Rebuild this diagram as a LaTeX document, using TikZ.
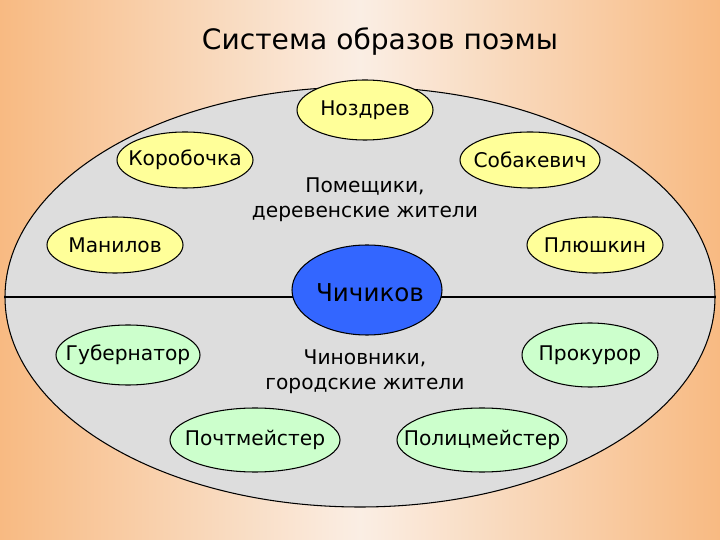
\documentclass[tikz,border=0pt]{standalone}
\usepackage{fontspec}
\setmainfont{DejaVu Sans}
\usetikzlibrary{shapes.geometric}
\definecolor{bgedge}{RGB}{248,186,130}
\definecolor{bgmid}{RGB}{250,238,228}
\definecolor{yel}{RGB}{255,255,153}
\definecolor{grn}{RGB}{204,255,204}
\definecolor{blu}{RGB}{51,102,255}
\definecolor{gry}{RGB}{221,221,221}
\tikzset{
 px/.style={x=0.02cm,y=-0.02cm},
 el/.style={ellipse,draw=black,line width=0.6pt,inner sep=0pt},
 txt/.style={font=\fontsize{11.5}{14}\selectfont},
 lab/.style={align=center,font=\fontsize{11.5}{14}\selectfont}
}
\begin{document}
\begin{tikzpicture}[px]
\shade[left color=bgedge,right color=bgedge,middle color=bgmid] (0,0) rectangle (720,540);
\useasboundingbox (0,0) rectangle (720,540);
\node (title) at (380,42) {\fontsize{16}{20}\selectfont Система образов поэмы};
\node[ellipse,draw=black,line width=0.6pt,fill=gry,minimum width=710*0.02cm,minimum height=420*0.02cm] (big) at (360,297) {};
\draw[line width=0.6pt] (big.west) -- (big.east);
\node[el,fill=yel,minimum width=136*0.02cm,minimum height=60*0.02cm] (noz) at (365,110) {};
\node[txt] at (noz) {Ноздрев};
\node[el,fill=yel,minimum width=136*0.02cm,minimum height=56*0.02cm] (kor) at (185,160) {};
\node[txt] at (kor) {Коробочка};
\node[el,fill=yel,minimum width=140*0.02cm,minimum height=56*0.02cm] (sob) at (530,160) {};
\node[txt] at (sob) {Собакевич};
\node[el,fill=yel,minimum width=136*0.02cm,minimum height=56*0.02cm] (man) at (115,245) {};
\node[txt] at (man) {Манилов};
\node[el,fill=yel,minimum width=136*0.02cm,minimum height=56*0.02cm] (ply) at (595,245) {};
\node[txt] at (ply) {Плюшкин};
\node[lab] (pom) at (365,200) {Помещики,\\деревенские жители};
\node[el,fill=blu,minimum width=150*0.02cm,minimum height=90*0.02cm] (chi) at (367,290) {};
\node[font=\fontsize{14}{16}\selectfont] at (370,293) {Чичиков};
\node[el,fill=grn,minimum width=144*0.02cm,minimum height=60*0.02cm] (gub) at (128,355) {};
\node[txt] at (gub) {Губернатор};
\node[el,fill=grn,minimum width=136*0.02cm,minimum height=64*0.02cm] (pro) at (590,355) {};
\node[txt] at (pro) {Прокурор};
\node[lab] (chin) at (365,372) {Чиновники,\\городские жители};
\node[el,fill=grn,minimum width=170*0.02cm,minimum height=64*0.02cm] (poch) at (255,440) {};
\node[txt] at (poch) {Почтмейстер};
\node[el,fill=grn,minimum width=170*0.02cm,minimum height=64*0.02cm] (pol) at (482,440) {};
\node[txt] at (pol) {Полицмейстер};
\end{tikzpicture}
\end{document}
